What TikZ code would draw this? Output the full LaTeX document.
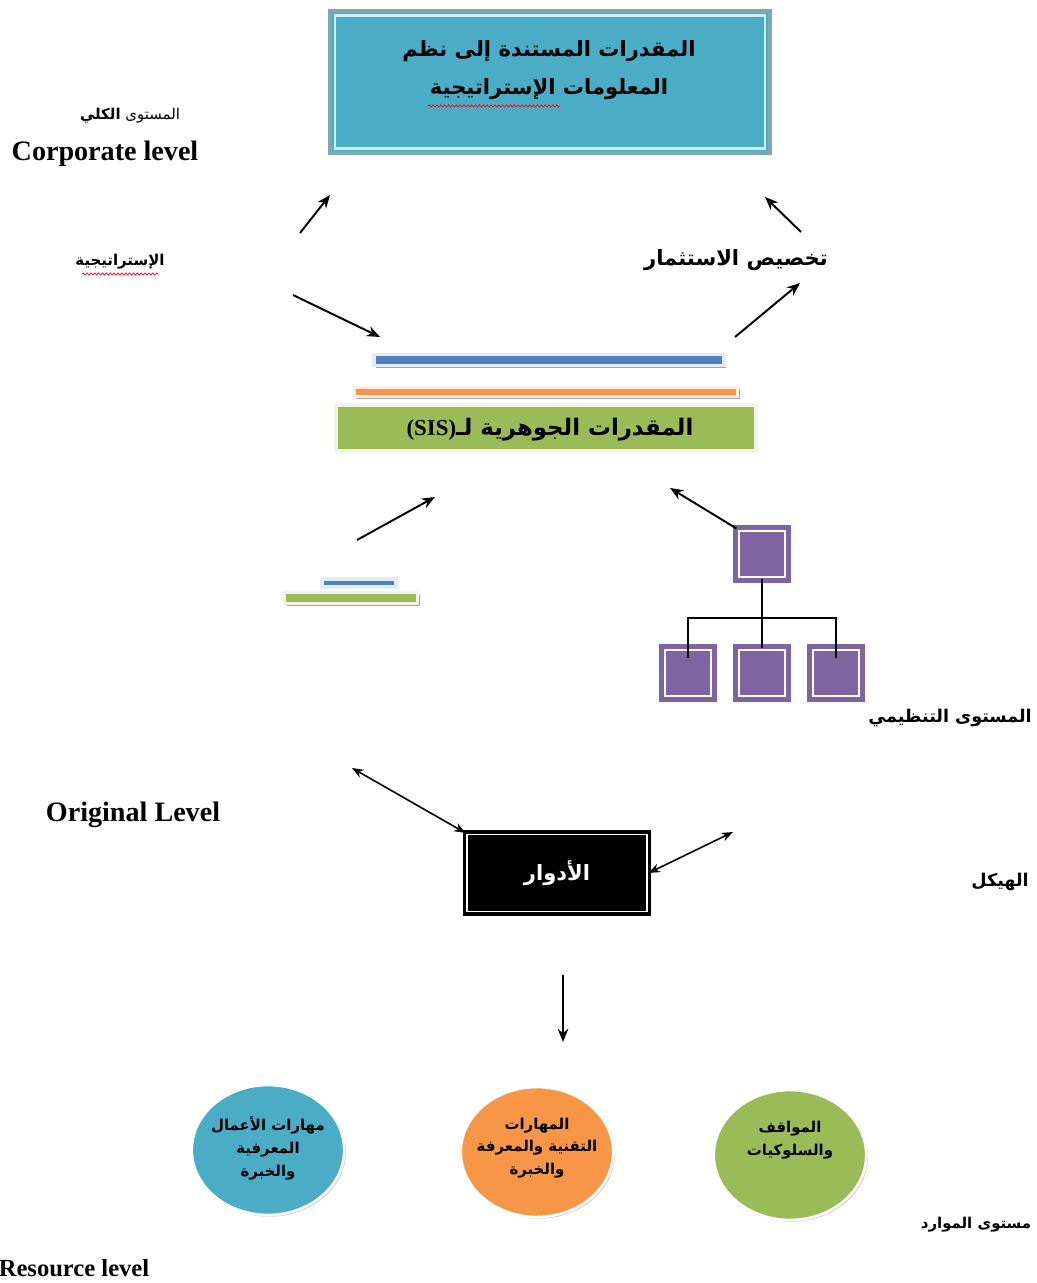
\documentclass[tikz,border=0pt]{standalone}
\usepackage{fontspec}
\setmainfont{Liberation Serif}
\newfontfamily\arabicfont[Script=Arabic]{DejaVu Sans}
\TeXXeTstate=1
\usetikzlibrary{arrows.meta,shapes.geometric,shadows,decorations.pathmorphing}
\definecolor{capblue}{HTML}{4BACC6}
\definecolor{capedge}{HTML}{7FA9B1}
\definecolor{capline}{HTML}{C6F3FA}
\definecolor{barblue}{HTML}{4F81BD}
\definecolor{barorange}{HTML}{F79646}
\definecolor{bargreen}{HTML}{9BBB59}
\definecolor{orgpurple}{HTML}{8064A2}

\begin{document}
\begin{tikzpicture}[x=0.02cm, y=-0.02cm, >={Stealth[length=7.5pt,width=6pt]},
	link/.style={->, line width=1.1pt},
	both/.style={<->, line width=0.9pt, >={Stealth[length=6.5pt,width=5pt]}},
	ar/.style 2 args={font=\arabicfont\bfseries\fontsize{#1}{#2}\selectfont, align=center, inner sep=0pt},
	en/.style={font=\bfseries\fontsize{#1}{17}\selectfont, inner sep=0pt},
	bar/.style={draw=#1!15, line width=2pt, fill=#1, inner sep=0pt, drop shadow={shadow xshift=1.2pt, shadow yshift=-1.2pt, fill=gray!70, opacity=1}},
	orgbox/.style={draw=orgpurple, double=white, line width=2.8pt, double distance=1.3pt, fill=orgpurple, minimum size=0.92cm, inner sep=0pt},
	skill/.style={ellipse, draw=white, line width=1.5pt, fill=#1, minimum width=3.05cm, minimum height=2.6cm, drop shadow={shadow xshift=1pt, shadow yshift=-1pt, fill=gray!35, opacity=1}},
	spell/.style={red, line width=0.4pt, decorate, decoration={snake, amplitude=0.6pt, segment length=2.2pt}}]
	\useasboundingbox (0,0) rectangle (1036,1283);

	% top level box
	\node[draw=capedge, line width=2.5pt, fill=capblue, minimum width=8.8cm, minimum height=2.85cm] (cap) at (550,82) {};
	\draw[capline, line width=1.3pt] ([xshift=4pt,yshift=-4pt]cap.north west) rectangle ([xshift=-4pt,yshift=4pt]cap.south east);
	\node[ar={12}{22}] (captext) at (549,70) {\beginR المقدرات المستندة إلى نظم\endR\\ \beginR المعلومات الإستراتيجية\endR};
	\draw[spell] (428,106) -- (560,106);

	\node[font=\arabicfont\fontsize{8.5}{11}\selectfont, inner sep=0pt] (corpar) at (130,116) {\beginR المستوى \textbf{الكلي}\endR};
	\node[en=16] (corpen) at (105,154) {Corporate level};
	\node[ar={8.5}{11}] (strat) at (120,262) {\beginR الإستراتيجية\endR};
	\draw[spell] (82,274) -- (158,274);
	\node[ar={12}{15}] (invest) at (736,260) {\beginR تخصيص الاستثمار\endR};

	\coordinate (s1) at (300,233); \coordinate (s2) at (330,195);
	\coordinate (i1) at (801,232); \coordinate (i2) at (765,197);
	\coordinate (s3) at (293,295); \coordinate (s4) at (380,337);
	\coordinate (i3) at (735,337); \coordinate (i4) at (800,283);
	\draw[link] (s1) -- (s2);
	\draw[link] (i1) -- (i2);
	\draw[link] (s3) -- (s4);
	\draw[link] (i3) -- (i4);

	% core capabilities
	\node[bar=barblue, minimum width=7.0cm, minimum height=0.22cm] (sisblue) at (549,360) {};
	\node[bar=barorange, minimum width=7.66cm, minimum height=0.18cm] (sisorange) at (546,392) {};
	\node[bar=bargreen, minimum width=8.4cm, minimum height=0.92cm] (sisgreen) at (546,428) {};
	\node[ar={13}{16}] (sistext) at (550,430) {{\rmfamily(SIS)}\beginR المقدرات الجوهرية لـ\endR};

	% small bars and org chart
	\node[bar=barblue, minimum width=1.48cm, minimum height=0.16cm] (smallblue) at (359,583) {};
	\node[bar=bargreen, minimum width=2.66cm, minimum height=0.22cm] (smallgreen) at (351,598) {};
	\coordinate (b1) at (357,540); \coordinate (b2) at (435,497);
	\draw[link] (b1) -- (b2);

	\node[orgbox] (org) at (762,554) {};
	\node[orgbox] (orgl) at (688,673) {};
	\node[orgbox] (orgm) at (762,673) {};
	\node[orgbox] (orgr) at (836,673) {};
	\coordinate (bus) at (762,618);
	\draw[line width=0.9pt] (org.south) -- (bus);
	\draw[line width=0.9pt] ([yshift=-6pt]orgl.north) |- (bus) -| ([yshift=-6pt]orgr.north);
	\draw[line width=0.9pt] (bus) -- (orgm.north);
	\coordinate (o1) at (670,488);
	\draw[link] (org.north west) -- (o1);

	\node[ar={10}{13}] (orglevel) at (950,718) {\beginR المستوى التنظيمي\endR};
	\node[en=16] (origen) at (133,815) {Original Level};

	% roles
	\node[draw=black, double=white, line width=1.8pt, double distance=1.1pt, fill=black, minimum width=3.6cm, minimum height=1.54cm] (roles) at (557,873) {};
	\node[ar={12}{15}, text=white] (rolestext) at (557,873) {\beginR الأدوار\endR};
	\coordinate (r1) at (352,768); \coordinate (r2) at (733,832);
	\draw[both] (r1) -- (roles.north west);
	\draw[both] (roles.east) -- (r2);
	\node[ar={10}{13}] (struct) at (1000,882) {\beginR الهيكل\endR};

	\coordinate (d1) at (563,975); \coordinate (d2) at (563,1042);
	\draw[link] (d1) -- (d2);

	% resources
	\node[skill=capblue] (bizskill) at (268,1150) {};
	\node[skill=barorange] (techskill) at (537,1152) {};
	\node[skill=bargreen] (attitude) at (790,1155) {};
	\node[ar={8.5}{13}] (biztext) at (268,1148) {\beginR مهارات الأعمال\endR\\ \beginR المعرفية\endR\\ \beginR والخبرة\endR};
	\node[ar={8.5}{13}] (techtext) at (537,1148) {\beginR المهارات\endR\\ \beginR التقنية والمعرفة\endR\\ \beginR والخبرة\endR};
	\node[ar={8.5}{13}] (atttext) at (790,1140) {\beginR المواقف\endR\\ \beginR والسلوكيات\endR};

	\node[ar={8.5}{11}] (reslevel) at (976,1225) {\beginR مستوى الموارد\endR};
	\node[en=14] (resen) at (74,1268) {Resource level};
\end{tikzpicture}
\end{document}
